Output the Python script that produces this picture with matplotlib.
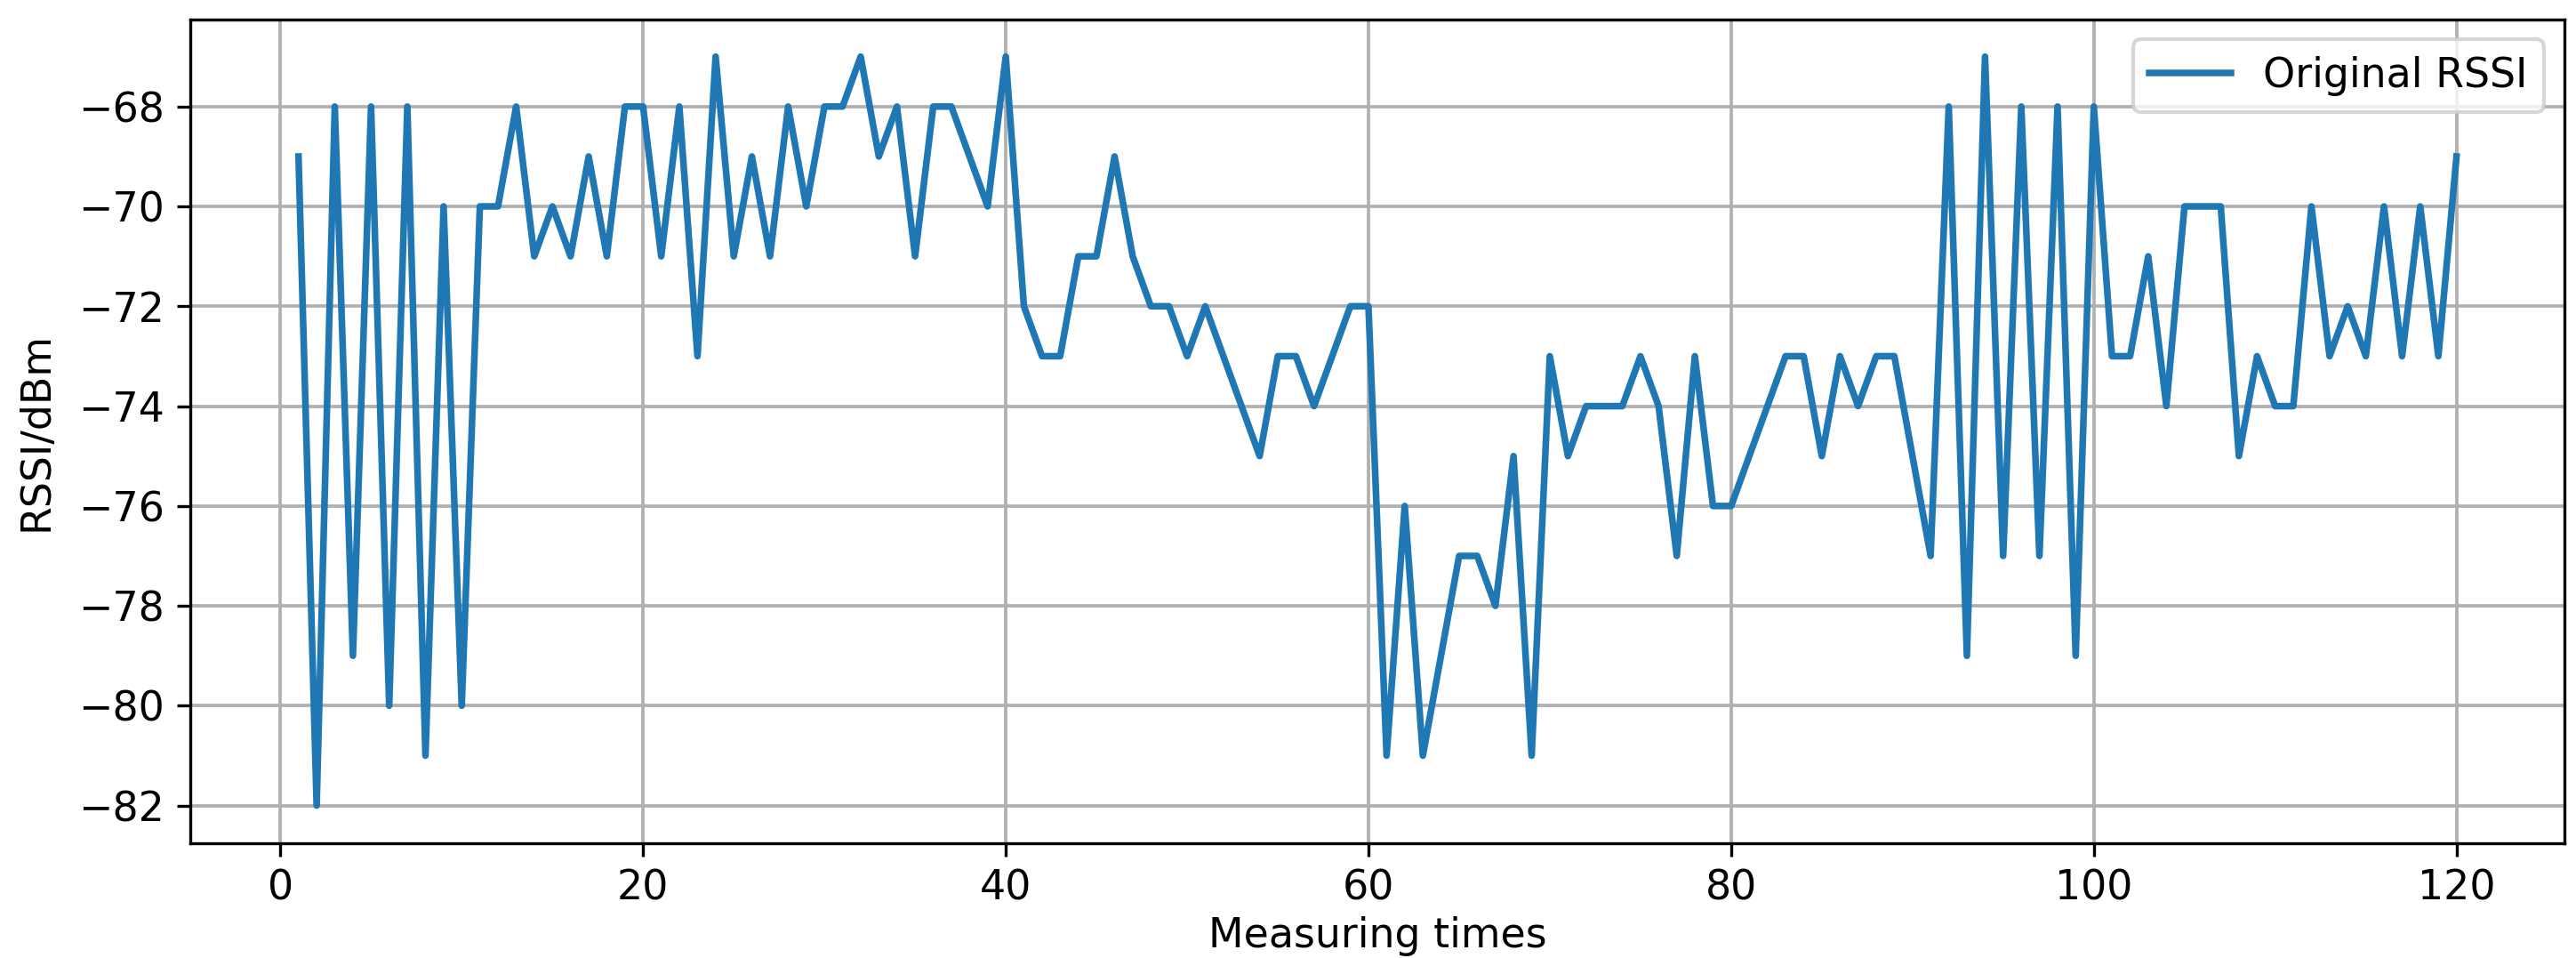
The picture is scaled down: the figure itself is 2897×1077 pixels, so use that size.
import matplotlib
matplotlib.use("Agg")
import matplotlib.pyplot as plt

measure_idx = list(range(1, 121))
rssi = [
    -69, -82, -68, -79, -68, -80, -68, -81, -70, -80,
    -70, -70, -68, -71, -70, -71, -69, -71, -68, -68,
    -71, -68, -73, -67, -71, -69, -71, -68, -70, -68,
    -68, -67, -69, -68, -71, -68, -68, -69, -70, -67,
    -72, -73, -73, -71, -71, -69, -71, -72, -72, -73,
    -72, -73, -74, -75, -73, -73, -74, -73, -72, -72,
    -81, -76, -81, -79, -77, -77, -78, -75, -81, -73,
    -75, -74, -74, -74, -73, -74, -77, -73, -76, -76,
    -75, -74, -73, -73, -75, -73, -74, -73, -73, -75,
    -77, -68, -79, -67, -77, -68, -77, -68, -79, -68,
    -73, -73, -71, -74, -70, -70, -70, -75, -73, -74,
    -74, -70, -73, -72, -73, -70, -73, -70, -73, -69,
]
series_label = "Original RSSI"
x_label = "Measuring times"
y_label = "RSSI/dBm"

fig = plt.figure(figsize=(2897 / 300, 1077 / 300), dpi=300)
ax = fig.add_subplot(111)
fig.subplots_adjust(left=0.074, right=0.9955, top=0.98, bottom=0.12)

ax.plot(measure_idx, rssi, color="#1f77b4", linewidth=1.8, label=series_label)
ax.grid(True, color="#b0b0b0", linewidth=0.9)
ax.set_xlabel(x_label, fontsize=11, labelpad=2)
ax.set_ylabel(y_label, fontsize=11, labelpad=6)
ax.set_xticks([0, 20, 40, 60, 80, 100, 120])
ax.set_yticks([-82, -80, -78, -76, -74, -72, -70, -68])
ax.tick_params(labelsize=11)
ax.legend(loc="upper right", fontsize=11)

fig.savefig("out.png", dpi=300)
